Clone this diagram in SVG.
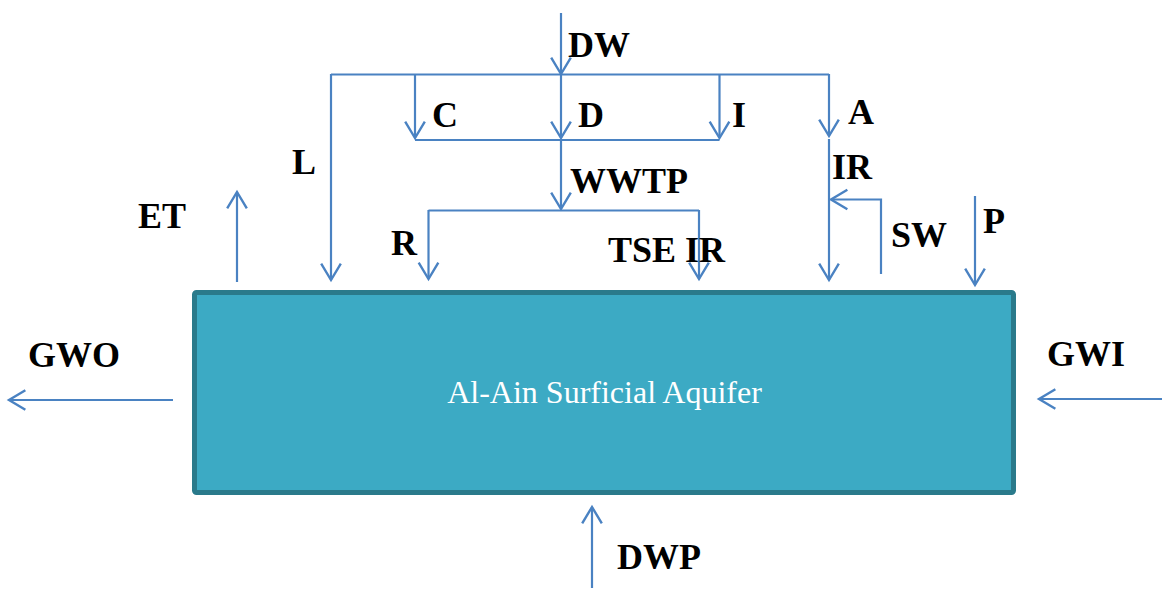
<svg xmlns="http://www.w3.org/2000/svg" width="1162" height="590" viewBox="0 0 1162 590">
<defs>
<style>
.c{fill:none;stroke:#4a82c2;stroke-width:2.2}
.a{marker-end:url(#ah)}
.t{font-family:"Liberation Serif","Times New Roman",serif;font-weight:bold;font-size:36px;fill:#000}
.box{fill:#3caac4;stroke:#2a7a8b;stroke-width:5}
.bt{font-family:"Liberation Serif","Times New Roman",serif;font-size:32px;fill:#fff;text-anchor:middle}
</style>
<marker id="ah" markerUnits="userSpaceOnUse" markerWidth="24" markerHeight="24" viewBox="-17 -11 20 22" refX="0" refY="0" orient="auto">
<path d="M-15,-9 L0,0 L-15,9" fill="none" stroke="#4a82c2" stroke-width="2.2"/>
</marker>
</defs>
<g id="aquifer">
<rect class="box" x="194.5" y="292.5" width="819" height="200" rx="2"/>
<text class="bt" x="604.5" y="403">Al-Ain Surficial Aquifer</text>
</g>
<g id="connectors">
<path class="c a" d="M561,13 V74"/>
<path class="c" d="M331,74.5 H829"/>
<path class="c a" d="M331,74 V280"/>
<path class="c a" d="M415,74 V138"/>
<path class="c a" d="M561,74 V138"/>
<path class="c a" d="M719.5,74 V138"/>
<path class="c a" d="M829,74 V136"/>
<path class="c a" d="M829,139 V280"/>
<path class="c" d="M415,140 H719.5"/>
<path class="c a" d="M561,140 V209"/>
<path class="c" d="M428.5,210.5 H699"/>
<path class="c a" d="M428.5,210 V279"/>
<path class="c a" d="M699,210 V279"/>
<path class="c a" d="M881,274 V199.5 H831"/>
<path class="c a" d="M975,196 V285"/>
<path class="c a" d="M237,282 V192"/>
<path class="c a" d="M173,400 H9"/>
<path class="c a" d="M1162,399 H1039"/>
<path class="c a" d="M592,588 V507"/>
</g>
<g id="labels">
<text class="t" x="568" y="57">DW</text>
<text class="t" x="432" y="127">C</text>
<text class="t" x="578" y="127">D</text>
<text class="t" x="732" y="127">I</text>
<text class="t" x="848" y="124">A</text>
<text class="t" x="292" y="174">L</text>
<text class="t" x="570" y="193">WWTP</text>
<text class="t" x="832" y="179">IR</text>
<text class="t" x="138" y="228">ET</text>
<text class="t" x="391" y="255">R</text>
<text class="t" x="608" y="262">TSE IR</text>
<text class="t" x="891" y="247">SW</text>
<text class="t" x="983" y="233">P</text>
<text class="t" x="28" y="367">GWO</text>
<text class="t" x="1047" y="366">GWI</text>
<text class="t" x="617" y="569">DWP</text>
</g>
</svg>
